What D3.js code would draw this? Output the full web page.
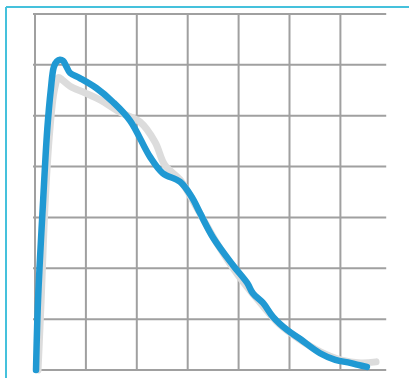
<!DOCTYPE html>
<html>
<head>
<meta charset="utf-8">
<script src="https://cdn.jsdelivr.net/npm/d3@7"></script>
<style>
  body { margin: 0; background: #fff; }
  svg { display: block; }
</style>
</head>
<body>
<svg width="409" height="378"></svg>
<script>
// grid ticks
const xTicks = [0, 10, 20, 30, 40, 50, 60]
const yTicks = [0, 10, 20, 30, 40, 50, 60, 70]
const xEnd = 69

// main curve (blue)
const mainX = [0.2, 0.6, 1.6, 2.4, 3.1, 3.7, 4.3, 4.9, 5.5, 6.2, 6.9, 8.8, 12.1, 15.3, 18.7, 22.6, 25.1, 28.5, 30.8, 32.4, 35.0, 38.9, 41.7, 42.8, 44.8, 46.8, 49.5, 52.1, 56.0, 59.0, 61.9, 63.5, 65.2]
const mainY = [0, 13.8, 33.4, 47.2, 55.1, 59.6, 60.7, 61.0, 60.8, 59.6, 58.4, 57.4, 55.4, 52.7, 49.0, 41.9, 38.7, 37.0, 34.0, 30.9, 26.0, 20.6, 17.1, 15.1, 13.2, 10.4, 7.9, 6.1, 3.3, 2.0, 1.4, 1.0, 0.6]

// reference curve (gray, mostly under the blue one)
const refX = [0.6, 1.2, 2.0, 2.9, 3.8, 4.6, 5.4, 6.9, 9.8, 12.8, 16.7, 20.6, 23.6, 25.5, 28.5, 32.0, 36.0, 40.0, 44.0, 48.0, 52.0, 56.0, 60.0, 64.0, 67.0]
const refY = [0, 13.5, 33.0, 47.0, 55.0, 57.5, 57.0, 55.8, 54.5, 53.1, 50.7, 48.8, 44.8, 40.3, 37.4, 31.5, 24.5, 18.5, 13.5, 9.0, 6.0, 3.6, 2.0, 1.4, 1.6]

const svg = d3.select("svg")

const x = d3.scaleLinear().domain([0, 70]).range([35, 391.3])
const y = d3.scaleLinear().domain([0, 70]).range([370, 14])

// frame
svg.append("line")
  .attr("x1", 6).attr("x2", 409).attr("y1", 7).attr("y2", 7)
  .attr("stroke", "#45c1dc").attr("stroke-width", 2)
svg.append("line")
  .attr("x1", 6).attr("x2", 6).attr("y1", 7).attr("y2", 378)
  .attr("stroke", "#45c1dc").attr("stroke-width", 2)

const g = svg.append("g")

// grid
g.selectAll(".vgrid").data(xTicks)
  .enter().append("line")
  .attr("class", "vgrid")
  .attr("x1", d => x(d)).attr("x2", d => x(d))
  .attr("y1", y(70)).attr("y2", y(0))
  .attr("stroke", "#a0a0a0").attr("stroke-width", 2)

g.selectAll(".hgrid").data(yTicks)
  .enter().append("line")
  .attr("class", "hgrid")
  .attr("x1", x(0) - 2).attr("x2", x(xEnd))
  .attr("y1", d => y(d)).attr("y2", d => y(d))
  .attr("stroke", "#a0a0a0").attr("stroke-width", 2)

const line = d3.line()
  .x(d => x(d[0]))
  .y(d => y(d[1]))
  .curve(d3.curveCatmullRom)

g.append("path")
  .datum(d3.zip(refX, refY))
  .attr("fill", "none")
  .attr("stroke", "#dcdcdc")
  .attr("stroke-width", 7)
  .attr("stroke-linecap", "round")
  .attr("d", line)

g.append("path")
  .datum(d3.zip(mainX, mainY))
  .attr("fill", "none")
  .attr("stroke", "#2099d3")
  .attr("stroke-width", 6.5)
  .attr("stroke-linecap", "round")
  .attr("stroke-linejoin", "round")
  .attr("d", line)
</script>
</body>
</html>
